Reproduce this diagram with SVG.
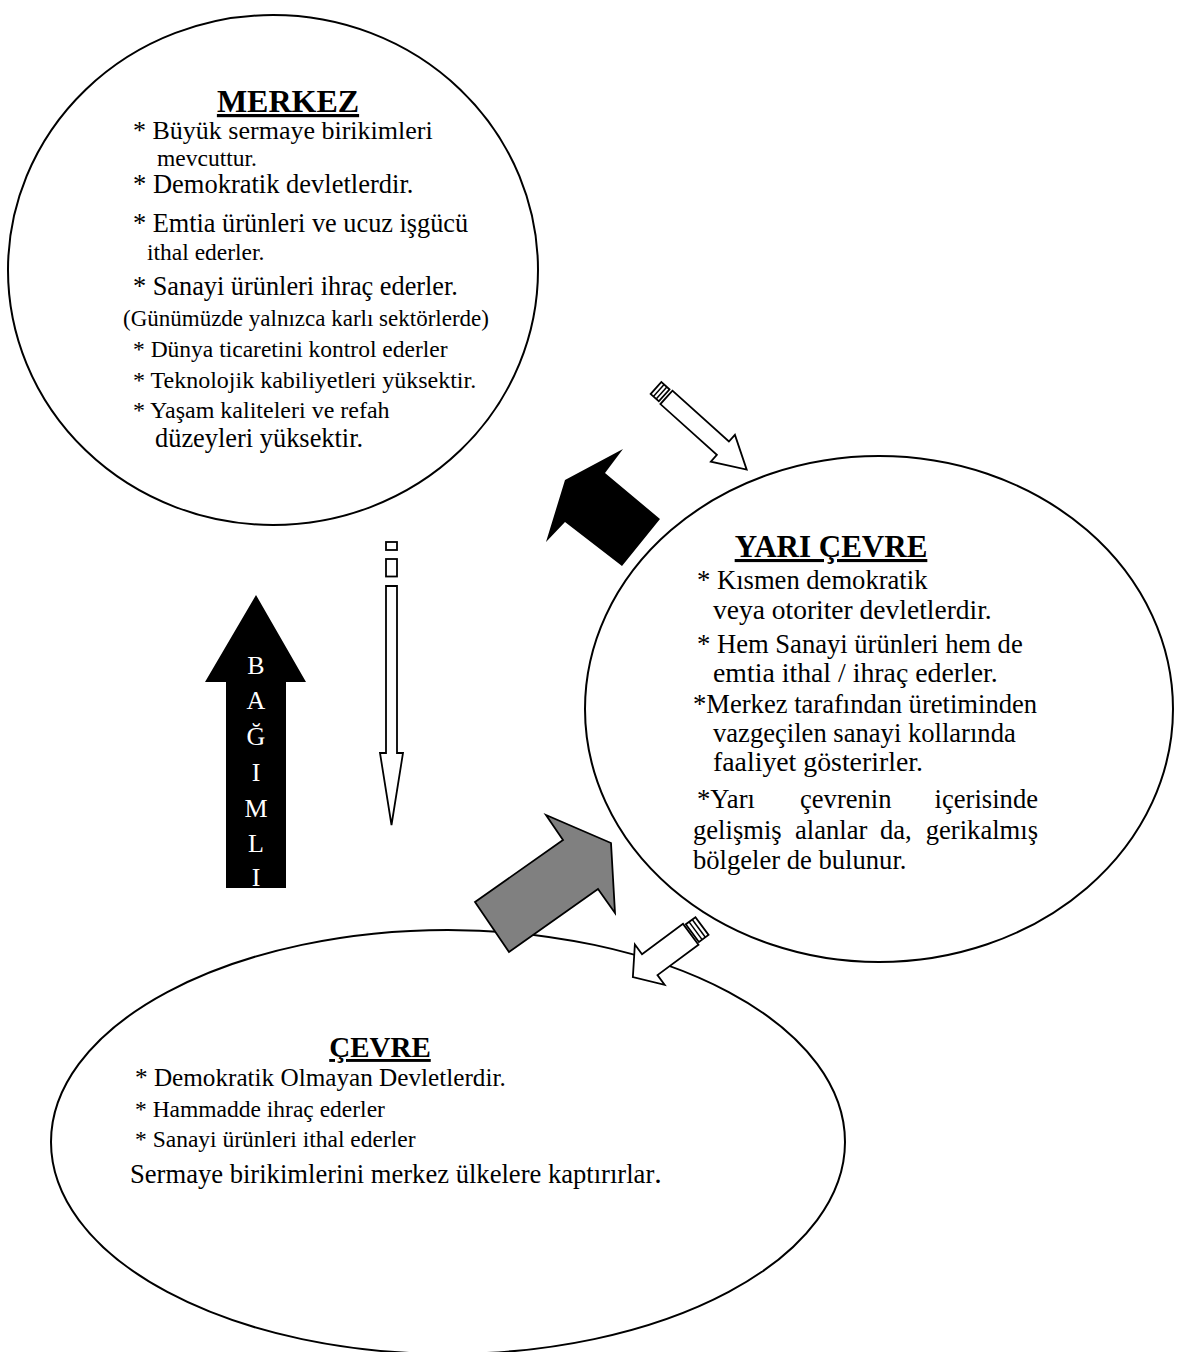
<svg xmlns="http://www.w3.org/2000/svg" width="1182" height="1352" viewBox="0 0 1182 1352">
<style>
.ell{fill:none;stroke:#000;stroke-width:2}
.t{font-family:"Liberation Serif","Times New Roman",serif;font-size:23.5px;fill:#000}
.y{font-size:26.6px}
.h{font-family:"Liberation Serif","Times New Roman",serif;font-weight:bold;fill:#000;text-decoration:underline;text-anchor:middle}
.v{font-family:"Liberation Serif","Times New Roman",serif;font-size:26px;fill:#fff;text-anchor:middle}
.hol{fill:#fff;stroke:#000;stroke-width:1.8;stroke-linejoin:miter}
</style>
<rect width="1182" height="1352" fill="#fff"/>
<g id="merkez">
<ellipse class="ell" cx="273" cy="270" rx="265" ry="255"/>
<text class="h" x="288" y="112" style="font-size:32px">MERKEZ</text>
<text class="t" x="133" y="139" style="font-size:26px">* Büyük sermaye birikimleri</text>
<text class="t" x="157" y="166">mevcuttur.</text>
<text class="t" x="133" y="193" style="font-size:26.5px">* Demokratik devletlerdir.</text>
<text class="t" x="133" y="232" style="font-size:26.3px">* Emtia ürünleri ve ucuz işgücü</text>
<text class="t" x="147" y="260">ithal ederler.</text>
<text class="t" x="133" y="295" style="font-size:26.3px">* Sanayi ürünleri ihraç ederler.</text>
<text class="t" x="123" y="326" style="font-size:23px">(Günümüzde yalnızca karlı sektörlerde)</text>
<text class="t" x="133" y="357">* Dünya ticaretini kontrol ederler</text>
<text class="t" x="133" y="388" style="font-size:24px">* Teknolojik kabiliyetleri yüksektir.</text>
<text class="t" x="133" y="418" style="font-size:24px">* Yaşam kaliteleri ve refah</text>
<text class="t" x="155" y="447" style="font-size:26.4px">düzeyleri yüksektir.</text>
</g>
<g id="yari-cevre">
<ellipse class="ell" cx="879" cy="709" rx="294" ry="253"/>
<text class="h" x="831" y="557" style="font-size:31px">YARI ÇEVRE</text>
<text class="t y" x="697" y="589">* Kısmen demokratik</text>
<text class="t" x="713" y="619" style="font-size:27.5px">veya otoriter devletlerdir.</text>
<text class="t y" x="697" y="653">* Hem Sanayi ürünleri  hem de</text>
<text class="t" x="713" y="682" style="font-size:27.8px">emtia ithal / ihraç ederler.</text>
<text class="t y" x="693" y="713">*Merkez tarafından üretiminden</text>
<text class="t y" x="713" y="742">vazgeçilen sanayi kollarında</text>
<text class="t" x="713" y="771" style="font-size:27.8px">faaliyet gösterirler.</text>
<text class="t y" x="697" y="808">*Yarı</text>
<text class="t y" x="800" y="808">çevrenin</text>
<text class="t y" x="1038" y="808" text-anchor="end">içerisinde</text>
<text class="t y" x="693" y="839">gelişmiş</text>
<text class="t y" x="795" y="839">alanlar</text>
<text class="t y" x="880" y="839">da,</text>
<text class="t y" x="1038" y="839" text-anchor="end">gerikalmış</text>
<text class="t y" x="693" y="869">bölgeler de bulunur.</text>
</g>
<g id="cevre">
<ellipse class="ell" cx="448" cy="1142" rx="397" ry="212"/>
<text class="h" x="380" y="1057" style="font-size:29px">ÇEVRE</text>
<text class="t" x="135" y="1086" style="font-size:25.2px">* Demokratik Olmayan Devletlerdir.</text>
<text class="t" x="135" y="1117">* Hammadde ihraç ederler</text>
<text class="t" x="135" y="1147">* Sanayi ürünleri ithal ederler</text>
<text class="t" x="130" y="1183" style="font-size:26.6px">Sermaye birikimlerini merkez ülkelere kaptırırlar<tspan style="font-size:30px">.</tspan></text>
</g>
<g id="connectors">
<g id="arrow-merkez-yari" transform="translate(656,388) rotate(42)">
<rect class="hol" x="0" y="-8" width="11" height="16"/>
<line x1="3.7" y1="-8" x2="3.7" y2="8" stroke="#000" stroke-width="1.5"/>
<line x1="7.4" y1="-8" x2="7.4" y2="8" stroke="#000" stroke-width="1.5"/>
<polygon class="hol" points="14,-9 90,-9 90,-18 122,0 90,18 90,9 14,9"/>
</g>
<polygon id="arrow-yari-merkez" fill="#000" points="546,542 565,480 623,449 605,473 660,519 622,566 565,522"/>
<g id="arrow-merkez-cevre">
<rect class="hol" x="386" y="542" width="11" height="8"/>
<rect class="hol" x="386" y="559" width="11" height="17.5"/>
<polygon class="hol" points="386,586 397,586 397,753 403,753 391.5,825 380,753 386,753"/>
</g>
<polygon id="arrow-cevre-yari" fill="#808080" stroke="#000" stroke-width="1.8" points="475,902 563,840 546,815 611,843 615,913 598,889 509,952"/>
<g id="arrow-yari-cevre" transform="translate(702,926) rotate(143.5)">
<rect class="hol" x="0" y="-11" width="12" height="22"/>
<line x1="4" y1="-11" x2="4" y2="11" stroke="#000" stroke-width="1.5"/>
<line x1="8" y1="-11" x2="8" y2="11" stroke="#000" stroke-width="1.5"/>
<polygon class="hol" points="14,-13 65,-13 65,-25 86,0 65,25 65,13 14,13"/>
</g>
<g id="arrow-bagimli">
<polygon fill="#000" points="226,888 226,682 205,682 256,595 306,682 286,682 286,888"/>
<text class="v" x="256" y="674">B</text>
<text class="v" x="256" y="709">A</text>
<text class="v" x="256" y="745">Ğ</text>
<text class="v" x="256" y="781">I</text>
<text class="v" x="256" y="817">M</text>
<text class="v" x="256" y="852">L</text>
<text class="v" x="256" y="886">I</text>
</g>
</g>
</svg>
